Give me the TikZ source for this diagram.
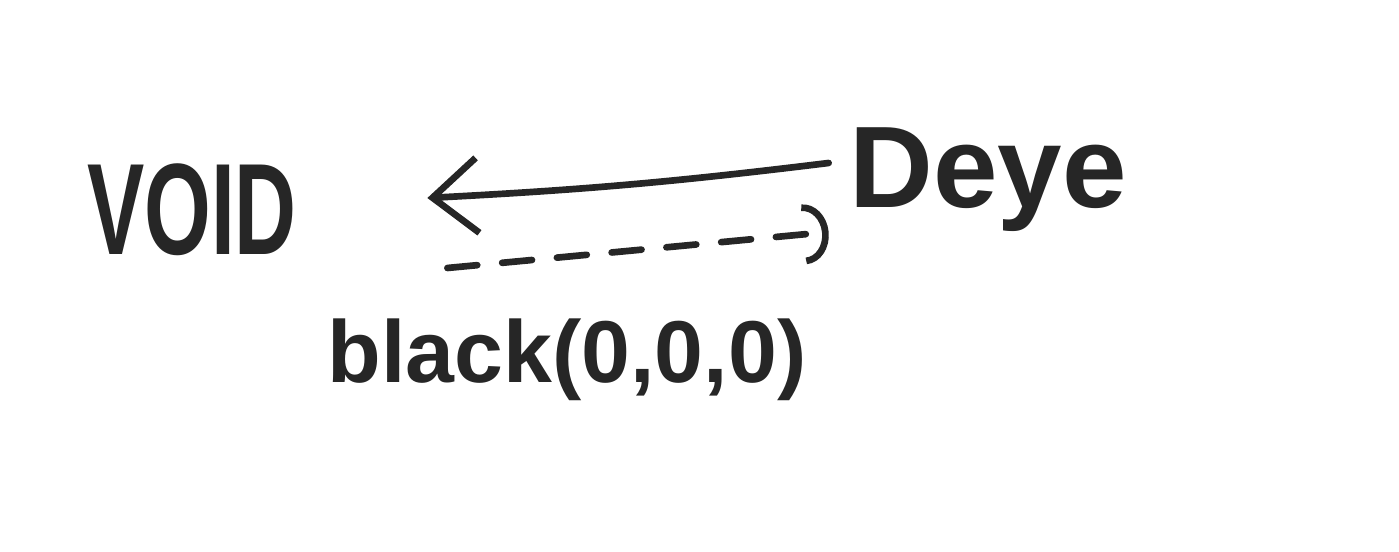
\documentclass[tikz,border=0pt]{standalone}
\usepackage{fontspec}
\setmainfont{Liberation Sans}
\usetikzlibrary{arrows.meta}
\begin{document}
\begin{tikzpicture}[
  ink/.style={draw=black!85, line width=1.9pt, line cap=round},
  word/.style={text=black!85, font=\bfseries, inner sep=0pt},
  solidarrow/.style={ink, -{Straight Barb[length=4.5mm,width=7.5mm,line width=1.9pt]}},
  dasharrow/.style={ink, dash pattern=on 0.3cm off 0.25cm, -{Arc Barb[length=2.5mm,width=6mm,line width=1.9pt]}}
]
\useasboundingbox (0,0) rectangle (13.99,5.52);
\fill[white] (0,0) rectangle (13.99,5.52);
\node[word, font=\bfseries\fontsize{37}{40}\selectfont, xscale=0.66] (void) at (1.92,3.42) {VOID};
\node[word, font=\bfseries\fontsize{33}{36}\selectfont] (deye) at (9.88,3.72) {Deye};
\node[word, font=\bfseries\fontsize{25}{28}\selectfont] (lbl) at (5.67,1.92) {black(0,0,0)};
\draw[solidarrow] ([xshift=-0.2cm,yshift=0.17cm]deye.west) to[bend left=2] ([xshift=1.3cm,yshift=0.12cm]void.east);
\draw[dasharrow] ([xshift=1.5cm,yshift=-0.58cm]void.east) -- ([xshift=-0.2cm,yshift=-0.52cm]deye.west);
\end{tikzpicture}
\end{document}
